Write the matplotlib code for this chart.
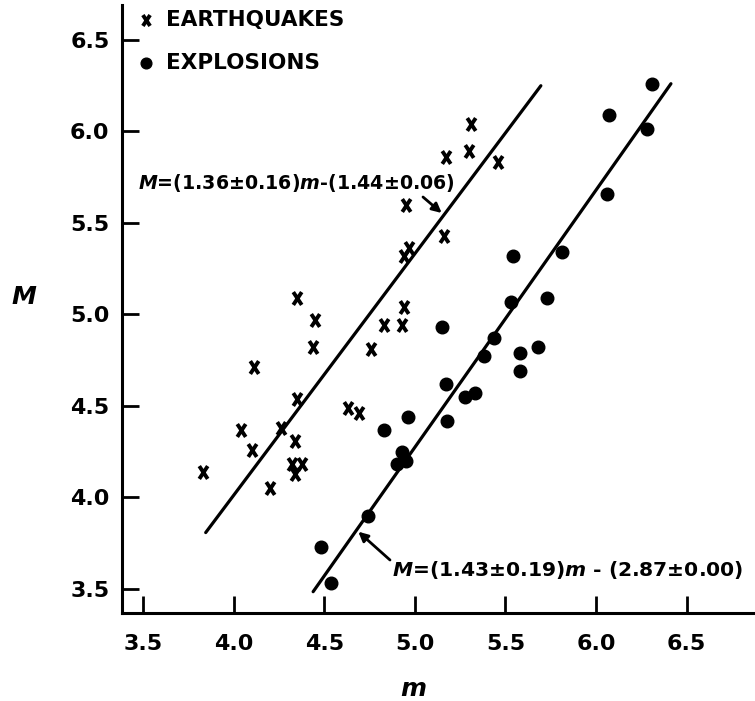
import matplotlib
matplotlib.use("Agg")
import matplotlib.pyplot as plt
from matplotlib.path import Path
import numpy as np

plt.rcParams["mathtext.fontset"] = "custom"
plt.rcParams["mathtext.it"] = "DejaVu Sans:italic:bold"
plt.rcParams["mathtext.rm"] = "DejaVu Sans:bold"

# ---- data ----
eq_m = [3.83, 4.04, 4.10, 4.11, 4.20, 4.26, 4.32, 4.34, 4.38, 4.34, 4.35, 4.35,
        4.45, 4.44, 4.63, 4.69, 4.76, 4.83, 4.93, 4.94, 4.94, 4.97, 4.95, 5.16,
        5.17, 5.30, 5.31, 5.46]
eq_M = [4.14, 4.37, 4.26, 4.71, 4.05, 4.38, 4.18, 4.13, 4.18, 4.31, 4.54, 5.09,
        4.97, 4.82, 4.49, 4.46, 4.81, 4.94, 4.94, 5.04, 5.32, 5.36, 5.60, 5.43,
        5.86, 5.89, 6.04, 5.83]

ex_m = [4.48, 4.54, 4.74, 4.83, 4.90, 4.93, 4.95, 4.96, 5.15, 5.17, 5.18, 5.28,
        5.33, 5.38, 5.44, 5.53, 5.54, 5.58, 5.58, 5.68, 5.73, 5.81, 6.06, 6.07,
        6.28, 6.31]
ex_M = [3.73, 3.53, 3.90, 4.37, 4.18, 4.25, 4.20, 4.44, 4.93, 4.62, 4.42, 4.55,
        4.57, 4.77, 4.87, 5.07, 5.32, 4.79, 4.69, 4.82, 5.09, 5.34, 5.66, 6.09,
        6.01, 6.26]

# fitted lines as drawn (end points)
eq_line_m = [3.846, 5.696]
eq_line_M = [3.808, 6.249]
ex_line_m = [4.439, 6.414]
ex_line_M = [3.485, 6.260]

ticks = [3.5, 4.0, 4.5, 5.0, 5.5, 6.0, 6.5]
tick_labels = ["3.5", "4.0", "4.5", "5.0", "5.5", "6.0", "6.5"]

eq_text = r"$M$=(1.36±0.16)$m$-(1.44±0.06)"
ex_text = r"$M$=(1.43±0.19)$m$ - (2.87±0.00)"

# ---- figure ----
W, H = 755, 701
fig = plt.figure(figsize=(W / 100, H / 100), dpi=100)
ax = fig.add_axes([122 / W, (H - 613.3) / H, 1 - 122 / W, (613.3 - 5) / H])
ax.set_xlim(3.384, 6.878)
ax.set_ylim(3.367, 6.69)

for s in ["top", "right"]:
    ax.spines[s].set_visible(False)
for s in ["left", "bottom"]:
    ax.spines[s].set_linewidth(2.2)

ax.set_xticks(ticks)
ax.set_xticklabels(tick_labels)
ax.set_yticks(ticks)
ax.set_yticklabels(tick_labels)
ax.tick_params(axis="both", direction="in", length=12, width=2.0,
               labelsize=16)
ax.tick_params(axis="x", pad=15)
ax.tick_params(axis="y", pad=9)
for lab in ax.get_xticklabels() + ax.get_yticklabels():
    lab.set_fontweight("bold")

xmark = Path([(-0.33, -0.5), (0.33, 0.5), (-0.33, 0.5), (0.33, -0.5)],
             [Path.MOVETO, Path.LINETO, Path.MOVETO, Path.LINETO])

ax.plot(eq_line_m, eq_line_M, color="black", lw=2.3, solid_capstyle="round")
ax.plot(ex_line_m, ex_line_M, color="black", lw=2.3, solid_capstyle="round")

ax.scatter(eq_m, eq_M, marker=xmark, s=85, color="black", linewidths=2.8,
           label="EARTHQUAKES", zorder=3)
ax.scatter(ex_m, ex_M, marker="o", s=82, color="black", edgecolors="black",
           label="EXPLOSIONS", zorder=3)

leg = ax.legend(loc="upper left", bbox_to_anchor=(137 / W, 1 - 10 / H),
                bbox_transform=fig.transFigure, frameon=False, borderpad=0,
                borderaxespad=0, handlelength=0.8, handletextpad=0.55,
                labelspacing=1.05, markerscale=0.85,
                prop={"weight": "bold", "size": 15.5})

# annotations
ax.text(138, H - 183, eq_text, transform=None, ha="left", va="center",
        fontsize=13.7, fontweight="bold")
ax.annotate("", xy=(441.7, H - 213), xycoords="figure pixels",
            xytext=(423, H - 197), textcoords="figure pixels",
            arrowprops=dict(arrowstyle="-|>", color="black", lw=2,
                            mutation_scale=14, shrinkA=0, shrinkB=0))

ax.text(392, H - 570, ex_text, transform=None, ha="left", va="center",
        fontsize=14.6, fontweight="bold")
ax.annotate("", xy=(358.3, H - 531.7), xycoords="figure pixels",
            xytext=(390, H - 560), textcoords="figure pixels",
            arrowprops=dict(arrowstyle="-|>", color="black", lw=2,
                            mutation_scale=14, shrinkA=0, shrinkB=0))

# axis labels
fig.text(413 / W, 1 - 689 / H, r"$m$", ha="center", va="center", fontsize=18)
fig.text(24 / W, 1 - 297 / H, r"$M$", ha="center", va="center", fontsize=18)

fig.savefig("out.png", dpi=100)
